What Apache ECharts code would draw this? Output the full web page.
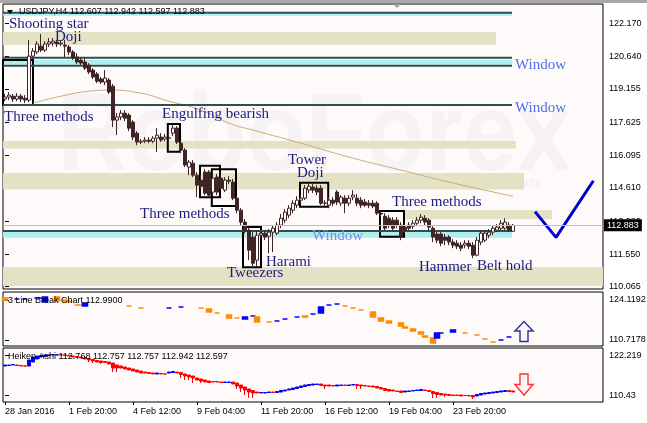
<!DOCTYPE html>
<html><head><meta charset="utf-8">
<script src="https://cdn.jsdelivr.net/npm/echarts@6/dist/echarts.min.js"></script>
<style>html,body{margin:0;padding:0;background:#fff}#c{width:647px;height:423px}</style>
</head><body><div id="c"></div>
<script>
// ---------- tick labels ----------
const priceTicks = [110.065, 111.550, 113.080, 114.610, 116.095, 117.625, 119.155, 120.640, 122.170];
const lbTicks = [110.7178, 124.1192];
const haTicks = [110.43, 122.219];
const timeTickIdx = [0, 16, 32, 48, 64, 80, 96, 112];
const timeTickLabels = ['28 Jan 2016', '1 Feb 20:00', '4 Feb 12:00', '9 Feb 04:00', '11 Feb 20:00', '16 Feb 12:00', '19 Feb 04:00', '23 Feb 20:00'];

// ---------- USDJPY H4 candles (bar index = position in arrays) ----------
const openP = [118.69,118.78,118.82,118.69,118.82,118.73,118.64,120.66,120.85,121.12,120.94,121.22,121.26,121.31,121.22,121.17,121.08,120.85,120.62,120.48,120.39,120.25,120.02,119.84,119.61,119.47,119.56,119.28,117.72,117.86,118.04,117.95,117.63,117.12,116.71,116.75,116.80,116.75,116.89,116.94,116.85,116.89,117.12,117.35,116.66,116.34,115.56,115.74,115.19,114.96,115.33,115.33,114.41,115.10,115.05,114.50,114.96,114.87,114.13,113.58,113.03,112.66,112.34,111.28,112.43,112.52,112.38,112.57,112.52,112.89,113.12,113.35,113.58,113.81,114.04,114.13,114.50,114.64,114.59,114.59,113.90,113.81,114.04,114.41,113.90,114.13,113.90,114.18,114.13,114.04,113.95,113.90,113.90,113.90,113.44,113.30,113.21,113.12,113.12,112.89,112.80,112.89,112.84,112.98,113.12,113.21,113.12,112.75,112.48,112.48,112.34,112.34,112.11,112.06,111.97,111.97,112.06,111.97,111.51,112.11,112.20,112.43,112.57,112.66,112.75,112.75,112.89,112.607];
const closeP = [118.78,118.87,118.69,118.82,118.69,118.64,120.66,120.89,121.22,120.94,121.22,121.31,121.35,121.22,121.26,121.12,120.85,120.57,120.39,120.34,120.11,119.93,119.70,119.51,119.47,119.65,119.01,117.72,117.86,118.04,117.81,117.35,116.94,116.71,116.75,116.80,116.75,116.89,117.03,116.80,116.94,116.90,117.35,116.71,116.34,115.65,115.79,115.19,114.73,114.68,114.36,114.27,115.05,114.41,114.59,114.96,114.91,114.13,113.58,113.03,112.66,111.74,111.14,112.43,112.52,112.34,112.57,112.75,112.89,113.21,113.49,113.67,113.90,114.04,114.13,114.59,114.68,114.50,114.41,113.90,113.91,114.04,113.90,113.95,114.18,113.90,114.13,114.27,113.90,113.81,113.81,113.81,113.76,113.44,113.40,112.75,112.89,112.75,112.89,112.34,112.66,112.75,112.98,113.12,113.26,113.03,112.80,112.34,112.20,112.06,112.20,112.11,111.97,111.92,111.83,112.06,111.92,111.51,112.20,112.52,112.52,112.57,112.75,112.80,112.98,113.03,112.66,112.883];
const highP = [118.92,119.01,118.92,118.96,118.92,118.87,121.40,121.03,121.35,121.68,121.35,121.49,121.49,121.40,121.40,121.40,121.17,120.94,120.80,120.57,120.57,120.34,120.11,119.93,119.70,120.02,119.65,119.38,118.04,118.18,118.18,118.04,117.72,117.21,116.85,116.94,116.94,116.98,117.35,117.12,117.08,117.03,117.49,117.44,116.75,116.43,115.88,115.88,115.33,115.19,115.47,115.42,115.19,115.24,115.19,115.10,115.14,115.01,114.22,113.67,113.17,112.80,112.57,112.66,112.66,112.66,112.71,112.89,113.03,113.40,113.63,113.81,114.04,114.22,114.27,114.73,114.82,114.78,114.73,114.73,114.04,114.18,114.18,114.50,114.27,114.27,114.27,114.50,114.32,114.18,114.09,114.04,114.04,113.99,113.58,113.44,113.35,113.26,113.26,113.03,112.94,113.03,113.12,113.26,113.40,113.35,113.21,112.84,112.61,112.57,112.48,112.43,112.25,112.20,112.11,112.20,112.20,112.11,112.34,112.66,112.66,112.71,112.89,112.94,113.12,113.21,113.03,112.942];
const lowP = [118.59,118.64,118.55,118.59,118.55,118.50,118.55,120.53,120.76,120.85,120.85,121.08,121.12,121.08,121.12,120.62,120.71,120.48,120.30,120.25,120.02,119.84,119.61,119.42,119.38,119.33,118.92,117.40,117.03,117.72,117.67,117.21,116.80,116.57,116.62,116.66,116.66,116.66,116.25,116.71,116.75,116.75,116.98,116.62,116.20,115.56,115.19,115.10,114.18,114.55,114.27,114.18,114.27,114.27,114.50,114.41,114.78,114.04,113.44,112.89,112.52,111.28,111.00,111.00,112.29,112.20,111.60,111.65,112.43,112.75,112.98,113.21,113.44,113.67,113.90,114.04,114.36,114.36,114.27,113.81,113.72,113.67,113.76,113.81,113.76,113.44,113.76,114.04,113.76,113.67,113.72,113.67,113.67,113.35,113.26,112.66,112.75,112.66,112.75,112.20,112.52,112.61,112.71,112.84,112.98,112.89,112.66,112.11,112.06,111.92,111.97,111.97,111.83,111.79,111.69,111.83,111.79,111.37,111.46,111.97,112.11,112.29,112.43,112.57,112.66,112.66,112.57,112.597];

// moving average (read at points along the curve)
const maIdx = [7, 14, 21, 26, 34, 40, 49, 56, 62, 74, 86, 99, 111, 127];
const maVal = [118.50, 118.82, 119.05, 119.10, 118.96, 118.64, 118.18, 117.58, 117.26, 116.66, 116.02, 115.42, 114.87, 114.22];

// forecast tick
const fcIdx = [132.5, 137.75, 147.1];
const fcVal = [113.51, 112.33, 114.93];

// levels / zones
const tanStart = [-0.5, -0.5, -0.5, 99.75, -0.5];
const tanEnd = [122.75, 127.75, 129.75, 136.75, 149.5];
const tanTop = [121.77, 116.76, 115.29, 113.59, 110.97];
const tanBot = [121.17, 116.42, 114.53, 113.16, 110.09];
const cyTop = [122.63, 120.48, 112.59];
const cyBot = [122.52, 120.28, 112.31];
const cyEnd = [126.75, 126.75, 126.75];
const lineY = [122.66, 120.59, 120.22, 118.41, 112.62];
const lineEnd = [126.75, 126.75, 126.75, 126.75, 126.75];

// pattern boxes
const boxX0 = [-0.5, 40.7, 48.75, 51.7, 59.5, 73.75, 93.75];
const boxX1 = [7, 43.75, 53.75, 57.75, 64, 80.8, 99.75];
const boxTop = [120.48, 117.54, 115.62, 115.46, 112.80, 114.84, 113.54];
const boxBot = [118.41, 116.27, 114.17, 113.77, 110.96, 113.74, 112.36];

// 3 Line Break
const lbIdx = [0,3,5,8,9,10,13,15,16,18,19,20,31,34,41,44,49,51,53,56,58,60,62,63,66,68,70,73,75,77,79,81,83,85,87,89,92,94,96,99,100,102,104,105,107,108,109,112,115,118,120,122,124,126];
const lbOpen = [124.79,124.45,124.45,124.79,124.79,123.45,125.12,124.12,123.78,122.44,122.44,122.11,122.11,121.44,121.44,121.77,121.44,121.10,119.76,119.09,118.09,117.75,118.76,118.42,116.75,117.08,117.75,118.42,118.76,119.43,119.76,122.44,122.78,122.11,121.44,120.77,120.10,118.09,117.08,116.41,115.07,114.40,113.40,112.06,111.39,111.39,113.06,113.40,113.06,112.39,111.05,110.05,110.72,111.72];
const lbClose = [124.12,124.45,124.45,124.79,124.79,125.12,123.78,123.78,123.45,122.44,122.44,123.11,122.11,121.44,121.44,121.77,121.44,120.10,119.76,118.09,118.09,118.42,118.76,116.75,116.75,117.08,117.75,118.42,118.42,119.43,121.77,122.44,122.78,122.11,121.44,120.77,118.42,117.08,116.41,115.41,114.74,113.73,112.73,111.72,109.71,113.06,113.06,114.07,113.06,112.39,111.05,110.05,110.72,111.72];
const lbDir = ['d','u','u','u','u','u','d','d','d','d','d','u','d','d','u','u','d','d','d','d','d','u','u','d','d','u','u','u','d','u','u','u','u','d','d','d','d','d','d','d','d','d','d','d','d','u','u','u','d','d','d','d','u','u'];

// Heiken Ashi
const haOpen = [119.18,119.33,119.48,119.48,119.33,119.20,119.18,120.36,121.25,121.84,121.98,122.28,122.43,122.43,122.48,122.43,122.28,122.13,121.98,121.84,121.69,121.39,121.10,120.81,120.66,120.51,120.36,120.07,119.48,119.18,118.89,118.59,118.30,118.00,117.71,117.41,117.27,117.12,116.83,116.97,116.85,117.12,117.27,117.41,117.27,116.83,116.53,116.24,115.65,115.35,115.06,114.76,114.61,114.61,114.47,114.32,114.32,114.47,114.17,113.58,112.99,112.41,111.96,111.52,111.23,111.23,111.37,111.52,111.37,111.52,111.82,112.11,112.26,112.55,112.85,113.14,113.44,113.58,113.73,113.88,113.58,113.58,113.44,113.29,113.44,113.58,113.44,113.58,113.73,113.58,113.44,113.29,113.29,113.14,112.85,112.55,112.26,112.11,111.82,111.82,111.52,111.67,111.82,111.96,111.96,112.11,111.96,111.67,111.37,111.08,110.93,110.78,110.64,110.64,110.64,110.50,110.49,110.49,110.34,110.64,110.93,111.08,111.23,111.37,111.52,111.67,111.96,111.82];
const haClose = [119.48,119.48,119.63,119.33,119.18,119.16,120.95,121.84,122.13,122.28,122.43,122.43,122.57,122.48,122.43,122.28,122.13,121.84,121.69,121.54,121.25,120.95,120.66,120.36,120.22,120.22,119.77,118.59,118.59,118.59,118.30,118.00,117.71,117.41,117.12,117.12,116.97,116.83,117.12,116.83,116.81,117.41,117.56,117.12,116.68,116.24,115.94,115.65,115.06,114.76,114.47,114.32,114.47,114.47,114.32,114.47,114.47,113.88,113.29,112.70,112.11,111.52,111.23,111.23,111.37,111.37,111.52,111.37,111.67,111.96,112.11,112.41,112.70,112.99,113.29,113.58,113.73,113.88,113.88,113.44,113.29,113.29,113.29,113.58,113.58,113.44,113.58,113.73,113.44,113.29,113.29,113.14,112.99,112.70,112.41,111.96,111.82,111.82,111.67,111.37,111.82,111.82,111.96,112.11,112.26,111.96,111.67,111.08,110.78,110.64,110.64,110.49,110.49,110.49,110.34,110.47,110.34,110.05,110.78,111.08,111.23,111.37,111.52,111.67,111.82,111.96,111.67,111.52];
const haHigh = [119.48,119.48,119.63,119.48,119.33,119.20,120.95,121.84,122.13,122.28,122.43,122.43,122.57,122.48,122.48,122.43,122.28,122.13,121.98,121.84,121.69,121.39,121.10,120.81,120.66,120.51,120.36,120.07,119.48,119.18,118.89,118.59,118.30,118.00,117.71,117.41,117.27,117.12,117.12,116.97,116.85,117.41,117.56,117.41,117.27,116.83,116.53,116.24,115.65,115.35,115.06,114.76,114.61,114.61,114.47,114.47,114.47,114.47,114.17,113.58,112.99,112.41,111.96,111.52,111.37,111.37,111.52,111.52,111.67,111.96,112.11,112.41,112.70,112.99,113.29,113.58,113.73,113.88,113.88,113.88,113.58,113.58,113.44,113.58,113.58,113.58,113.58,113.73,113.73,113.58,113.44,113.29,113.29,113.14,112.85,112.55,112.26,112.11,111.82,111.82,111.82,111.82,111.96,112.11,112.26,112.11,111.96,111.67,111.37,111.08,110.93,110.78,110.64,110.64,110.64,110.50,110.49,110.49,110.78,111.08,111.23,111.37,111.52,111.67,111.82,111.96,111.96,111.82];
const haLow = [119.18,119.33,119.48,119.33,119.18,119.16,119.18,120.36,121.25,121.84,121.98,122.28,122.43,122.43,122.43,122.28,122.13,121.84,121.69,121.54,121.25,120.36,120.07,120.36,119.77,120.22,119.77,117.41,117.41,118.59,118.30,118.00,117.71,117.41,117.12,117.12,116.97,116.83,116.83,116.83,116.81,117.12,117.27,117.12,115.65,115.06,115.06,114.17,115.06,114.17,114.47,114.32,114.47,114.47,114.32,114.32,114.32,113.88,112.41,111.52,110.64,109.75,109.75,111.23,111.23,111.23,111.37,111.37,111.37,111.52,111.82,112.11,112.26,112.55,112.85,113.14,113.44,113.58,113.73,113.44,112.41,113.29,113.29,113.29,113.44,113.44,113.44,113.58,112.41,112.41,113.29,113.14,112.99,112.70,112.41,111.96,111.82,111.82,111.67,111.37,111.52,111.67,111.82,111.96,111.96,111.96,111.67,109.75,109.75,110.64,110.05,110.49,110.49,110.49,110.34,110.47,110.34,109.46,110.34,110.64,110.93,111.08,111.23,111.37,111.52,111.67,111.67,111.52];

// signal arrows
const arrowIdx = 129.75;
const upArrowVal = 113.57;
const downArrowVal = 113.73;

// ---------- chart ----------
const chart = echarts.init(document.getElementById('c'), null, {renderer: 'canvas'});
const FONT = '"Liberation Sans", Arial, sans-serif';
const SERIF = '"Liberation Serif", "Times New Roman", serif';
const DARK = '#3f2525';
const last = openP.length - 1;

const grids = [
  {left: 3, top: 4, width: 600, height: 285},
  {left: 3, top: 292, width: 600, height: 54},
  {left: 3, top: 348, width: 600, height: 54}
].map(g => Object.assign(g, {show: true, backgroundColor: '#FFFAFA', borderColor: '#000', borderWidth: 1, containLabel: false, outerBoundsMode: 'none'}));

const xAxes = [0, 1, 2].map(g => ({
  type: 'value', gridIndex: g, min: -0.5, max: 149.5, show: g === 2,
  axisLine: {show: false}, splitLine: {show: false},
  axisTick: {show: true, customValues: timeTickIdx, length: 3, lineStyle: {color: '#000'}},
  axisLabel: {customValues: timeTickIdx, formatter: v => timeTickLabels[timeTickIdx.indexOf(v)] || '',
    align: 'left', fontSize: 9, color: '#000', margin: 5, fontFamily: FONT}
}));

function yAx(g, min, max, ticks, fmt) {
  return {
    type: 'value', gridIndex: g, position: 'right', min, max, scale: true,
    axisLine: {show: false}, splitLine: {show: false},
    axisTick: {show: true, customValues: ticks, length: 4, lineStyle: {color: '#000'}},
    axisLabel: {customValues: ticks, formatter: fmt, fontSize: 9, color: '#000', margin: 6, fontFamily: FONT}
  };
}
const yAxes = [
  yAx(0, 109.9546, 123.058, priceTicks, v => v.toFixed(3)),
  yAx(1, 108.7076, 126.7995, lbTicks, v => v.toFixed(4)),
  yAx(2, 108.5732, 124.4884, haTicks, v => String(v))
];

const series = [];

// zones as markArea on a carrier series (MA line)
const zoneAreas = [];
tanTop.forEach((t, k) => zoneAreas.push([{coord: [tanStart[k], t], itemStyle: {color: '#E3E2C5'}}, {coord: [tanEnd[k], tanBot[k]]}]));
cyTop.forEach((t, k) => zoneAreas.push([{coord: [-0.5, t], itemStyle: {color: '#AEEEEE'}}, {coord: [cyEnd[k], cyBot[k]]}]));

series.push({
  type: 'line', name: 'MA', xAxisIndex: 0, yAxisIndex: 0, z: 2,
  data: maIdx.map((x, k) => [x, maVal[k]]), smooth: 0.5, showSymbol: false,
  lineStyle: {color: '#CDAA80', width: 1}, silent: true,
  markArea: {silent: true, data: zoneAreas}
});

// dark teal level lines
lineY.forEach((y, k) => series.push({
  type: 'line', xAxisIndex: 0, yAxisIndex: 0, z: 2, silent: true, showSymbol: false,
  data: [[-0.5, y], [lineEnd[k], y]], lineStyle: {color: '#2F4F4F', width: 2}
}));

// candles
series.push({
  type: 'candlestick', name: 'USDJPY', xAxisIndex: 0, yAxisIndex: 0, z: 3, barWidth: 3,
  data: openP.map((o, i) => [i, o, closeP[i], lowP[i], highP[i]]),
  itemStyle: {color: '#FFFFFF', color0: DARK, borderColor: DARK, borderColor0: DARK, borderWidth: 1},
  markArea: {silent: true, data: boxX0.map((x, k) => [
    {coord: [x, boxTop[k]], itemStyle: {color: 'rgba(0,0,0,0)', borderColor: '#000', borderWidth: 2}},
    {coord: [boxX1[k], boxBot[k]]}])},
  markLine: {silent: true, symbol: ['none', 'none'], animation: false,
    lineStyle: {color: '#C0C0C0', width: 1, type: 'solid'},
    label: {show: true, position: 'end', formatter: () => closeP[last].toFixed(3), color: '#fff',
      backgroundColor: '#000', padding: [2, 3, 1, 3], fontSize: 9, fontFamily: FONT, distance: 1},
    data: [{yAxis: closeP[last]}]}
});

// forecast V
series.push({
  type: 'line', xAxisIndex: 0, yAxisIndex: 0, z: 4, silent: true, showSymbol: false,
  data: fcIdx.map((x, k) => [x, fcVal[k]]), lineStyle: {color: '#0000CD', width: 3}
});

// 3 line break
series.push({
  type: 'candlestick', xAxisIndex: 1, yAxisIndex: 1, barWidth: 5,
  data: lbIdx.map((x, k) => {
    const c = lbDir[k] === 'u' ? '#0000FF' : '#FF8C00';
    const o = lbOpen[k], cl = lbClose[k];
    return {value: [x, o, cl, Math.min(o, cl), Math.max(o, cl)], itemStyle: {color: c, color0: c, borderColor: c, borderColor0: c, borderWidth: 1.5}};
  })
});

// heiken ashi
series.push({
  type: 'candlestick', xAxisIndex: 2, yAxisIndex: 2, barWidth: 3,
  data: haOpen.map((o, i) => [i, o, haClose[i], haLow[i], haHigh[i]]),
  itemStyle: {color: '#0000FF', color0: '#FF0000', borderColor: '#0000FF', borderColor0: '#FF0000', borderWidth: 1}
});

// arrows
series.push({
  type: 'scatter', xAxisIndex: 1, yAxisIndex: 1, z: 5, silent: true,
  data: [[arrowIdx, upArrowVal]], symbol: 'path://M9,0 L18,9 L13,9 L13,19 L5,19 L5,9 L0,9 Z', symbolSize: [18, 20],
  itemStyle: {color: '#F4F6FF', borderColor: '#00006E', borderWidth: 1.5}
});
series.push({
  type: 'scatter', xAxisIndex: 2, yAxisIndex: 2, z: 5, silent: true,
  data: [[arrowIdx, downArrowVal]], symbol: 'path://M5,0 L13,0 L13,10 L18,10 L9,20 L0,10 L5,10 Z', symbolSize: [18, 21],
  itemStyle: {color: '#FFF4F4', borderColor: '#FF0000', borderWidth: 1.5}
});

function txt(t, x, y, fill, size) {
  return {type: 'text', x, y, z: 50, silent: true,
    style: {text: t, fill: fill || '#1b1b7e', font: (size || 15) + 'px ' + SERIF, verticalAlign: 'middle', align: 'left'}};
}
const header = 'USDJPY,H4 ' + [openP[last], highP[last], lowP[last], closeP[last]].map(v => v.toFixed(3)).join(' ');
const haLast = ['112.768', '112.757', '112.757', '112.942', '112.597'];

const graphic = [
  {type: 'rect', shape: {x: 0, y: 0, width: 647, height: 3}, style: {fill: '#A9A9A9'}, z: 60, silent: true},
  {type: 'text', x: 57, y: 139, scaleX: 0.87, z: 1, silent: true,
    style: {text: 'RoboForex', fill: 'rgba(165,170,190,0.09)', font: 'bold 112px ' + FONT, verticalAlign: 'middle'}},
  {type: 'text', x: 308, y: 184, z: 1, silent: true,
    style: {text: 'ИСПОЛЬЗУЙ РОБОТОВ • ПОЛУЧАЙ ПРИБЫЛЬ', fill: 'rgba(165,170,190,0.18)', font: '10.5px ' + FONT, verticalAlign: 'middle'}},
  {type: 'polygon', shape: {points: [[7, 10], [13, 10], [10, 14]]}, style: {fill: '#000'}, z: 60, silent: true},
  {type: 'polygon', shape: {points: [[393, 4], [401, 4], [397, 8]]}, style: {fill: '#A0A0A0'}, z: 60, silent: true},
  {type: 'text', x: 19, y: 12, z: 55, silent: true, style: {text: header, fill: '#000', font: '9px ' + FONT, verticalAlign: 'middle'}},
  {type: 'text', x: 8, y: 301, z: 55, silent: true, style: {text: '3 Line Break Chart 112.9900', fill: '#000', font: '9px ' + FONT, verticalAlign: 'middle'}},
  {type: 'text', x: 8, y: 357, z: 55, silent: true, style: {text: 'Heiken Ashi ' + haLast.join(' '), fill: '#000', font: '9px ' + FONT, verticalAlign: 'middle'}},
  txt('Shooting star', 9, 24),
  txt('Doji', 55, 37),
  txt('Three methods', 4, 117),
  txt('Engulfing bearish', 162, 114),
  txt('Three methods', 140, 214),
  txt('Tower', 288, 160),
  txt('Doji', 297, 173),
  txt('Harami', 266, 262),
  txt('Tweezers', 227, 273),
  txt('Window', 312, 236, '#6F8FF2'),
  txt('Three methods', 392, 202),
  txt('Hammer', 419, 267),
  txt('Belt hold', 477, 266),
  txt('Window', 515, 65, '#4F6FE6'),
  txt('Window', 515, 108, '#4F6FE6')
];

chart.setOption({
  animation: false,
  backgroundColor: '#FFFFFF',
  textStyle: {fontFamily: FONT},
  grid: grids, xAxis: xAxes, yAxis: yAxes, series, graphic
});
</script></body></html>
